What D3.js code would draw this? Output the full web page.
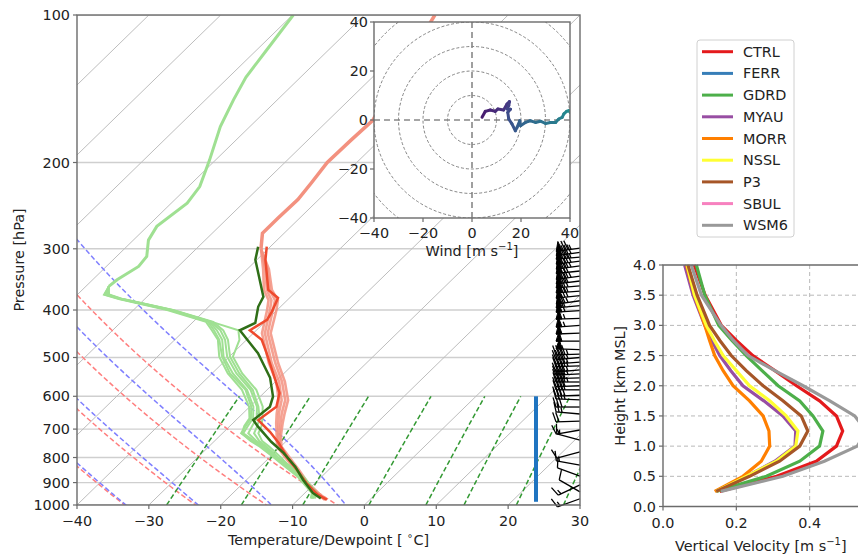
<!DOCTYPE html>
<html lang="en">
<head>
<meta charset="UTF-8">
<title>Skew-T, hodograph and vertical velocity</title>
<script src="https://d3js.org/d3.v7.min.js"></script>
<style>
  body { margin: 0; background: #fff; }
  svg { display: block; }
  text { font-family: 'DejaVu Sans', sans-serif; fill: #222; font-size: 14.4px; }
</style>
</head>
<body>
<div id="chart"></div>
<script>
// ---------- data ----------
const pTicks = [100, 200, 300, 400, 500, 600, 700, 800, 900, 1000];
const tTicks = [-40, -30, -20, -10, 0, 10, 20, 30];

// temperature ensemble (salmon), upper part is one trace
const salUpP = [100, 110, 125, 145, 164, 180, 200, 220, 238, 260, 279, 300];
const salUpT = [-60.2, -59.0, -57.5, -55.5, -53.8, -54.0, -54.1, -53.4, -52.9, -53.0, -53.0, -51.0];
const salP = [300, 330, 364, 382, 400, 446, 513, 560, 611, 650, 680, 720, 760, 800, 850, 900, 950, 975];
const sal1 = [-51.0, -47.5, -44.3, -42.2, -41.0, -38.4, -33.2, -29.5, -26.5, -25.0, -23.7, -22.0, -20.3, -17.6, -14.3, -11.3, -8.0, -6.2];
const sal2 = [-51.0, -47.2, -43.9, -41.7, -40.6, -38.0, -32.7, -29.1, -26.0, -24.6, -23.4, -21.8, -20.1, -17.4, -14.2, -11.2, -7.9, -6.1];
const sal3 = [-51.0, -47.8, -44.7, -42.6, -41.4, -38.8, -33.6, -29.9, -26.9, -25.3, -24.0, -22.2, -20.5, -17.8, -14.5, -11.4, -8.1, -6.3];
const sal4 = [-51.0, -47.0, -43.6, -41.3, -40.1, -37.6, -32.3, -28.7, -25.6, -24.2, -23.1, -21.6, -19.9, -17.2, -14.0, -11.1, -7.8, -6.0];

// dewpoint ensemble (light green), upper part is one trace
const dewUpP = [100, 118, 134, 149, 169, 198, 224, 242, 270, 288, 311, 326, 347, 358];
const dewUpT = [-79.9, -78.6, -77.6, -76.1, -74.1, -70.8, -68.4, -67.8, -68.7, -67.9, -65.8, -65.5, -66.6, -66.8];
const dewP = [358, 372, 380, 400, 423, 440, 460, 498, 539, 582, 630, 665, 690, 714, 740, 760, 800, 822, 876, 946, 970];
const dew1 = [-66.8, -66.0, -63.3, -54.9, -47.7, -45.5, -43.4, -40.8, -37.1, -32.8, -29.5, -27.9, -27.5, -27.1, -24.5, -22.4, -19.0, -17.3, -13.0, -8.8, -8.2];
const dew2 = [-66.8, -65.6, -63.0, -54.5, -47.2, -44.6, -42.6, -39.9, -36.2, -32.0, -28.8, -27.0, -26.2, -25.6, -23.8, -22.0, -18.8, -17.0, -12.8, -8.6, -8.0];
const dew3 = [-66.8, -66.3, -63.6, -55.3, -48.2, -46.2, -44.0, -41.4, -37.8, -33.5, -30.1, -28.4, -28.0, -27.3, -25.0, -22.9, -19.4, -17.6, -13.3, -9.0, -8.4];
const dew4 = [-66.8, -65.8, -63.1, -54.6, -47.4, -42.5, -41.0, -39.5, -35.8, -31.5, -28.2, -26.6, -25.6, -25.0, -23.4, -21.6, -18.4, -16.8, -12.5, -8.3, -7.8];
const dew5 = [-66.8, -66.2, -63.4, -55.0, -47.9, -45.9, -43.8, -41.0, -37.5, -33.0, -29.8, -28.2, -27.8, -27.4, -24.8, -22.6, -19.2, -17.4, -13.1, -8.9, -8.3];
const dew6 = [-66.8, -65.9, -63.2, -54.7, -47.5, -45.0, -43.0, -40.3, -36.6, -32.3, -29.0, -27.4, -26.9, -26.4, -24.2, -22.2, -18.9, -17.1, -12.9, -8.7, -8.1];

// red and dark green traces
const redP = [297, 316, 364, 378, 403, 419, 440, 460, 490, 551, 591, 630, 671, 709, 747, 797, 848, 902, 954, 975];
const redT = [-50.5, -48.8, -44.1, -41.6, -40.5, -40.0, -40.9, -37.9, -35.3, -30.6, -27.8, -26.3, -26.9, -23.6, -20.8, -17.7, -14.4, -11.2, -7.9, -6.0];
const grnP = [297, 316, 376, 394, 425, 440, 490, 550, 601, 630, 671, 692, 743, 783, 835, 889, 945, 970];
const grnT = [-51.7, -50.2, -43.8, -43.1, -41.2, -42.3, -36.5, -31.3, -28.2, -27.2, -27.6, -26.0, -22.0, -18.7, -15.1, -12.1, -8.9, -7.0];

// reference lines
const adiabatT0 = [-30, -20, -10, 0];          // degC at 1050 hPa
const mixRatios = [0.0004, 0.001, 0.002, 0.004, 0.007, 0.01, 0.016, 0.024, 0.032];
const layerP = [985, 600];                      // blue bar

// wind barbs (knots, direction wind is from)
const barbP = [299, 305, 312, 318, 325, 333, 341, 349, 357, 366, 374, 383, 392, 401, 416, 430, 446, 463, 482,
  492, 500, 511, 520, 530, 540, 550, 561, 571, 582, 597, 610, 631, 652, 674, 703, 737, 779, 829, 873, 910, 940, 971];
const barbSpd = [75, 80, 75, 80, 75, 70, 75, 70, 70, 65, 70, 65, 60, 60, 55, 55, 50, 50, 50,
  45, 45, 45, 45, 45, 45, 40, 45, 40, 40, 40, 35, 30, 25, 20, 15, 15, 10, 15, 10, 15, 10, 15];
const barbDir = [262, 262, 265, 263, 262, 264, 262, 263, 265, 266, 264, 262, 265, 266, 268, 266, 268, 270, 272,
  268, 265, 266, 268, 265, 267, 268, 270, 268, 270, 268, 272, 270, 275, 268, 260, 285, 255, 280, 290, 245, 300, 250];

// hodograph (m/s)
const hodoU = [4.1, 5.4, 7.5, 9.5, 10.6, 12.9, 14.3, 15.3, 15.0, 14.3, 15.7, 14.6, 15.0, 16.3, 17.7, 18.4, 19.5, 19.8,
  21.8, 23.8, 25.9, 27.9, 30.0, 32.0, 34.1, 35.4, 36.8, 37.5, 38.6, 39.5, 40.5];
const hodoV = [1.1, 3.5, 4.1, 3.5, 4.5, 4.1, 6.5, 7.5, 5.9, 4.5, 4.4, 3.1, 0.4, -1.6, -4.4, -3.0, -0.3, -2.3,
  -1.0, -0.3, -1.0, -0.5, -1.4, -1.0, -1.0, 0.4, 1.1, 2.5, 3.5, 3.8, 2.5];
const hodoTicks = [-40, -20, 0, 20, 40];

// vertical velocity profiles (m/s) by height (km MSL)
const vvHeight = [0.25, 0.5, 0.75, 1.0, 1.25, 1.5, 1.75, 2.0, 2.25, 2.5, 2.75, 3.0, 3.5, 4.0];
const schemes = ["CTRL", "FERR", "GDRD", "MYAU", "MORR", "NSSL", "P3", "SBUL", "WSM6"];
const vvCTRL = [0.155, 0.310, 0.418, 0.473, 0.490, 0.473, 0.427, 0.364, 0.305, 0.245, 0.200, 0.159, 0.115, 0.085];
const vvFERR = [];
const vvGDRD = [0.145, 0.282, 0.373, 0.427, 0.436, 0.409, 0.373, 0.314, 0.270, 0.227, 0.188, 0.152, 0.114, 0.091];
const vvMYAU = [0.145, 0.227, 0.305, 0.360, 0.362, 0.327, 0.275, 0.218, 0.185, 0.155, 0.133, 0.114, 0.082, 0.059];
const vvMORR = [0.141, 0.218, 0.268, 0.291, 0.289, 0.273, 0.236, 0.191, 0.164, 0.141, 0.127, 0.114, 0.086, 0.064];
const vvNSSL = [0.145, 0.227, 0.309, 0.362, 0.368, 0.336, 0.291, 0.236, 0.200, 0.164, 0.140, 0.118, 0.086, 0.066];
const vvP3 = [0.145, 0.236, 0.318, 0.373, 0.395, 0.377, 0.327, 0.273, 0.227, 0.186, 0.155, 0.127, 0.093, 0.068];
const vvSBUL = [];
const vvWSM6 = [0.158, 0.327, 0.440, 0.530, 0.555, 0.523, 0.455, 0.382, 0.305, 0.232, 0.192, 0.158, 0.105, 0.077];
const vvTicksX = [0.0, 0.2, 0.4];
const vvTicksY = [0.0, 0.5, 1.0, 1.5, 2.0, 2.5, 3.0, 3.5, 4.0];

// ---------- setup ----------
const colors = ["#e41a1c", "#377eb8", "#4daf4a", "#984ea3", "#ff7f00", "#ffff33", "#a65628", "#f781bf", "#999999"];
const vvData = [vvCTRL, vvFERR, vvGDRD, vvMYAU, vvMORR, vvNSSL, vvP3, vvSBUL, vvWSM6];
const spine = "#6b6b6b";
const minus = v => String(v).replace("-", "\u2212");

let svg = d3.select("#chart").append("svg").attr("width", 858).attr("height", 557);

// 1. skew-T axes
const sk = { left: 77, right: 580, top: 15, bottom: 505 };
let x = d3.scaleLinear().domain([-40, 30]).range([sk.left, sk.right]);
let y = d3.scaleLog().domain([1000, 100]).range([sk.bottom, sk.top]);
const skew = (sk.right - sk.left) / (sk.bottom - sk.top);
const px = (T, p) => x(T) + (sk.bottom - y(p)) * skew;
const tpLine = d3.line().x(d => px(d[1], d[0])).y(d => y(d[0]));

svg.append("clipPath").attr("id", "skclip").append("rect")
  .attr("x", sk.left).attr("y", sk.top)
  .attr("width", sk.right - sk.left).attr("height", sk.bottom - sk.top);
let plot = svg.append("g").attr("clip-path", "url(#skclip)");

// isobars and isotherms
plot.selectAll(".isobar").data(pTicks).enter().append("line")
  .attr("x1", sk.left).attr("x2", sk.right)
  .attr("y1", d => y(d)).attr("y2", d => y(d))
  .attr("stroke", "#cfcfcf").attr("stroke-width", 1.4);
plot.selectAll(".isotherm").data(d3.range(-110, 31, 10)).enter().append("line")
  .attr("x1", d => px(d, 1000)).attr("y1", y(1000))
  .attr("x2", d => px(d, 100)).attr("y2", y(100))
  .attr("stroke", "#bdbdbd").attr("stroke-width", 1);

// thermodynamics for reference lines
const Rd = 287.04749, Lv = 2.50084e6, Cpd = 1004.666, eps = 0.6219569;
const satVap = Tk => 6.112 * Math.exp(17.67 * (Tk - 273.15) / (Tk - 29.65));
function moistSlope(p, Tk) {
  let es = satVap(Tk), rs = eps * es / (p - es);
  return (Rd * Tk + Lv * rs) / (Cpd + Lv * Lv * rs * eps / (Rd * Tk * Tk)) / p;
}
function moistAdiabat(t0) {
  let pts = [], Tk = t0 + 273.15, p = 1050, n = 190, dp = (100 - 1050) / n;
  pts.push([p, Tk - 273.15]);
  for (let i = 0; i < n; i++) {
    let k1 = moistSlope(p, Tk);
    let k2 = moistSlope(p + dp / 2, Tk + dp / 2 * k1);
    let k3 = moistSlope(p + dp / 2, Tk + dp / 2 * k2);
    let k4 = moistSlope(p + dp, Tk + dp * k3);
    Tk += dp / 6 * (k1 + 2 * k2 + 2 * k3 + k4);
    p += dp;
    pts.push([p, Tk - 273.15]);
  }
  return pts;
}
const dryAdiabat = t0 => d3.range(1050, 99, -10).map(p => [p, (t0 + 273.15) * Math.pow(p / 1050, Rd / Cpd) - 273.15]);
function mixLine(w) {
  return d3.range(1000, 599, -10).map(p => {
    let e = w * p / (eps + w), l = Math.log(e / 6.112);
    return [p, 243.5 * l / (17.67 - l)];
  });
}

plot.selectAll(".dry").data(adiabatT0).enter().append("path")
  .attr("d", d => tpLine(dryAdiabat(d)))
  .attr("fill", "none").attr("stroke", "#ff7f7f").attr("stroke-width", 1.5).attr("stroke-dasharray", "5,2.6");
plot.selectAll(".moist").data(adiabatT0).enter().append("path")
  .attr("d", d => tpLine(moistAdiabat(d)))
  .attr("fill", "none").attr("stroke", "#7f7fff").attr("stroke-width", 1.5).attr("stroke-dasharray", "5,2.6");
plot.selectAll(".mix").data(mixRatios).enter().append("path")
  .attr("d", d => tpLine(mixLine(d)))
  .attr("fill", "none").attr("stroke", "#339933").attr("stroke-width", 1.5).attr("stroke-dasharray", "5,2.6");

// 2. profiles
const pair = (P, T) => P.map((p, i) => [p, T[i]]);
plot.append("path").attr("d", tpLine(pair(salUpP, salUpT)))
  .attr("fill", "none").attr("stroke", "#f3917f").attr("stroke-width", 3.5);
[sal1, sal2, sal3, sal4].forEach(m => {
  plot.append("path").attr("d", tpLine(pair(salP, m)))
    .attr("fill", "none").attr("stroke", "#f3917f").attr("stroke-width", 2.6).attr("stroke-opacity", 0.85);
});
plot.append("path").attr("d", tpLine(pair(dewUpP, dewUpT)))
  .attr("fill", "none").attr("stroke", "#9fe092").attr("stroke-width", 3);
[dew1, dew2, dew3, dew4, dew5, dew6].forEach(m => {
  plot.append("path").attr("d", tpLine(pair(dewP, m)))
    .attr("fill", "none").attr("stroke", "#9fe092").attr("stroke-width", 2);
});
plot.append("path").attr("d", tpLine(pair(redP, redT)))
  .attr("fill", "none").attr("stroke", "#ee4a2e").attr("stroke-width", 2.5);
plot.append("path").attr("d", tpLine(pair(grnP, grnT)))
  .attr("fill", "none").attr("stroke", "#2f6e17").attr("stroke-width", 2.5);

// layer bar
const barX = sk.left + 0.9125 * (sk.right - sk.left);
svg.append("line").attr("x1", barX).attr("x2", barX)
  .attr("y1", y(layerP[0])).attr("y2", y(layerP[1]))
  .attr("stroke", "#1f74c0").attr("stroke-width", 4);

// 3. wind barbs
let barbs = svg.append("g");
function barbPath(bx, by, spd, dir) {
  const L = 24, h = 0.4 * L, w = 0.25 * L, sp = 0.125 * L;
  let a = dir * Math.PI / 180, d = [Math.sin(a), Math.cos(a)], n = [d[1], -d[0]];
  const pt = (s, k) => [bx + d[0] * s + n[0] * k, by - (d[1] * s + n[1] * k)];
  let mag = 5 * Math.floor(spd / 5 + 0.5);
  let nf = Math.floor(mag / 50), rem = mag - 50 * nf, nb = Math.floor(rem / 10), half = rem - 10 * nb >= 5;
  let lines = [[pt(0, 0), pt(L, 0)]], flags = [], off = L;
  for (let i = 0; i < nf; i++) {
    if (off !== L) off += sp / 2;
    flags.push([pt(off, 0), pt(off - w / 2, h), pt(off - w, 0)]);
    off -= w + sp;
  }
  for (let i = 0; i < nb; i++) { lines.push([pt(off, 0), pt(off + w / 2, h)]); off -= sp; }
  if (half) {
    if (off === L) off -= 1.5 * sp;
    lines.push([pt(off, 0), pt(off + w / 4, h / 2)]);
  }
  return { lines, flags };
}
barbP.forEach((p, i) => {
  let b = barbPath(sk.right, y(p), barbSpd[i], barbDir[i]);
  b.lines.forEach(l => barbs.append("path").attr("d", d3.line()(l))
    .attr("stroke", "#000").attr("stroke-width", 1.3).attr("fill", "none"));
  b.flags.forEach(f => barbs.append("path").attr("d", d3.line()(f) + "Z")
    .attr("fill", "#000").attr("stroke", "#000").attr("stroke-width", 1));
});

// skew-T frame, ticks, labels
svg.append("rect").attr("x", sk.left).attr("y", sk.top)
  .attr("width", sk.right - sk.left).attr("height", sk.bottom - sk.top)
  .attr("fill", "none").attr("stroke", spine).attr("stroke-width", 1.4);
pTicks.forEach(p => {
  svg.append("line").attr("x1", sk.left - 4).attr("x2", sk.left).attr("y1", y(p)).attr("y2", y(p))
    .attr("stroke", spine).attr("stroke-width", 1.2);
  svg.append("text").attr("x", sk.left - 7).attr("y", y(p) + 5).attr("text-anchor", "end").text(p);
});
tTicks.forEach(t => {
  svg.append("line").attr("x1", x(t)).attr("x2", x(t)).attr("y1", sk.bottom).attr("y2", sk.bottom + 4)
    .attr("stroke", spine).attr("stroke-width", 1.2);
  svg.append("text").attr("x", x(t)).attr("y", sk.bottom + 21).attr("text-anchor", "middle").text(minus(t));
});
svg.append("text").attr("transform", `translate(24,${(sk.top + sk.bottom) / 2}) rotate(-90)`)
  .attr("text-anchor", "middle").text("Pressure [hPa]");
let xl = svg.append("text").attr("x", (sk.left + sk.right) / 2).attr("y", 545).attr("text-anchor", "middle");
xl.append("tspan").text("Temperature/Dewpoint [ ");
xl.append("tspan").attr("dy", -6).attr("font-size", "10px").text("\u2218");
xl.append("tspan").attr("dy", 6).text("C]");

// 4. hodograph inset
const ho = { left: 374, right: 570, top: 22, bottom: 218 };
let hx = d3.scaleLinear().domain([-40, 40]).range([ho.left, ho.right]);
let hy = d3.scaleLinear().domain([-40, 40]).range([ho.bottom, ho.top]);
svg.append("rect").attr("x", ho.left).attr("y", ho.top)
  .attr("width", ho.right - ho.left).attr("height", ho.bottom - ho.top).attr("fill", "#fff");
svg.append("clipPath").attr("id", "hoclip").append("rect")
  .attr("x", ho.left).attr("y", ho.top).attr("width", ho.right - ho.left).attr("height", ho.bottom - ho.top);
let hodo = svg.append("g").attr("clip-path", "url(#hoclip)");
hodo.selectAll(".ring").data(d3.range(10, 61, 10)).enter().append("circle")
  .attr("cx", hx(0)).attr("cy", hy(0)).attr("r", d => hx(d) - hx(0))
  .attr("fill", "none").attr("stroke", "#777").attr("stroke-width", 0.9).attr("stroke-dasharray", "3,2");
hodo.append("line").attr("x1", ho.left).attr("x2", ho.right).attr("y1", hy(0)).attr("y2", hy(0))
  .attr("stroke", "#888").attr("stroke-width", 1.6).attr("stroke-dasharray", "6,4");
hodo.append("line").attr("x1", hx(0)).attr("x2", hx(0)).attr("y1", ho.top).attr("y2", ho.bottom)
  .attr("stroke", "#888").attr("stroke-width", 1.6).attr("stroke-dasharray", "6,4");
let hcol = d3.scaleLinear().domain([0, hodoU.length - 1]).range([0.08, 0.5]);
for (let i = 0; i < hodoU.length - 1; i++) {
  hodo.append("line")
    .attr("x1", hx(hodoU[i])).attr("y1", hy(hodoV[i]))
    .attr("x2", hx(hodoU[i + 1])).attr("y2", hy(hodoV[i + 1]))
    .attr("stroke", d3.interpolateViridis(hcol(i))).attr("stroke-width", 3).attr("stroke-linecap", "round");
}
svg.append("rect").attr("x", ho.left).attr("y", ho.top)
  .attr("width", ho.right - ho.left).attr("height", ho.bottom - ho.top)
  .attr("fill", "none").attr("stroke", spine).attr("stroke-width", 1.4);
hodoTicks.forEach(t => {
  svg.append("line").attr("x1", ho.left - 4).attr("x2", ho.left).attr("y1", hy(t)).attr("y2", hy(t))
    .attr("stroke", spine).attr("stroke-width", 1.2);
  svg.append("text").attr("x", ho.left - 6).attr("y", hy(t) + 5).attr("text-anchor", "end").text(minus(t));
  svg.append("line").attr("x1", hx(t)).attr("x2", hx(t)).attr("y1", ho.bottom).attr("y2", ho.bottom + 4)
    .attr("stroke", spine).attr("stroke-width", 1.2);
  svg.append("text").attr("x", hx(t)).attr("y", ho.bottom + 20).attr("text-anchor", "middle").text(minus(t));
});
let wl = svg.append("text").attr("x", (ho.left + ho.right) / 2).attr("y", 256).attr("text-anchor", "middle");
wl.append("tspan").text("Wind [m s");
wl.append("tspan").attr("dy", -6).attr("font-size", "10px").text("\u22121");
wl.append("tspan").attr("dy", 6).text("]");

// 5. legend
const lg = { x: 697, y: 40, w: 97, h: 197 };
svg.append("rect").attr("x", lg.x).attr("y", lg.y).attr("width", lg.w).attr("height", lg.h)
  .attr("rx", 3).attr("fill", "#fff").attr("stroke", "#d0d0d0");
schemes.forEach((s, i) => {
  let yy = 51.7 + i * 21.7;
  svg.append("line").attr("x1", 702).attr("x2", 733).attr("y1", yy).attr("y2", yy)
    .attr("stroke", colors[i]).attr("stroke-width", 3);
  svg.append("text").attr("x", 743).attr("y", yy + 5).attr("font-size", "14px").text(s);
});

// 6. vertical velocity panel
const vp = { left: 663, right: 883, top: 265, bottom: 506.5 };
let vx = d3.scaleLinear().domain([0, 0.6]).range([vp.left, vp.right]);
let vy = d3.scaleLinear().domain([0, 4]).range([vp.bottom, vp.top]);
let vgrid = svg.append("g");
vvTicksX.slice(1).forEach(t => vgrid.append("line").attr("x1", vx(t)).attr("x2", vx(t))
  .attr("y1", vp.top).attr("y2", vp.bottom).attr("stroke", "#b8b8b8").attr("stroke-dasharray", "4,3"));
vvTicksY.slice(1, -1).forEach(t => vgrid.append("line").attr("x1", vp.left).attr("x2", vp.right)
  .attr("y1", vy(t)).attr("y2", vy(t)).attr("stroke", "#b8b8b8").attr("stroke-dasharray", "4,3"));
let vline = d3.line().x(d => vx(d[1])).y(d => vy(d[0]));
vvData.forEach((vals, i) => {
  if (!vals.length) return;
  svg.append("path").attr("d", vline(vvHeight.map((h, j) => [h, vals[j]])))
    .attr("fill", "none").attr("stroke", colors[i]).attr("stroke-width", 3.2);
});
svg.append("path").attr("d", `M${vp.right},${vp.top}H${vp.left}V${vp.bottom}H${vp.right}`)
  .attr("fill", "none").attr("stroke", spine).attr("stroke-width", 1.4);
vvTicksY.forEach(t => {
  svg.append("line").attr("x1", vp.left - 4).attr("x2", vp.left).attr("y1", vy(t)).attr("y2", vy(t))
    .attr("stroke", spine).attr("stroke-width", 1.2);
  svg.append("text").attr("x", vp.left - 7).attr("y", vy(t) + 5).attr("text-anchor", "end").text(t.toFixed(1));
});
vvTicksX.forEach(t => {
  svg.append("line").attr("x1", vx(t)).attr("x2", vx(t)).attr("y1", vp.bottom).attr("y2", vp.bottom + 4)
    .attr("stroke", spine).attr("stroke-width", 1.2);
  svg.append("text").attr("x", vx(t)).attr("y", vp.bottom + 21).attr("text-anchor", "middle").text(t.toFixed(1));
});
svg.append("text").attr("transform", `translate(625,${(vp.top + vp.bottom) / 2}) rotate(-90)`)
  .attr("text-anchor", "middle").text("Height [km MSL]");
let vl = svg.append("text").attr("x", 675).attr("y", 551);
vl.append("tspan").text("Vertical Velocity [m s");
vl.append("tspan").attr("dy", -6).attr("font-size", "10px").text("\u22121");
vl.append("tspan").attr("dy", 6).text("]");
</script>
</body>
</html>
